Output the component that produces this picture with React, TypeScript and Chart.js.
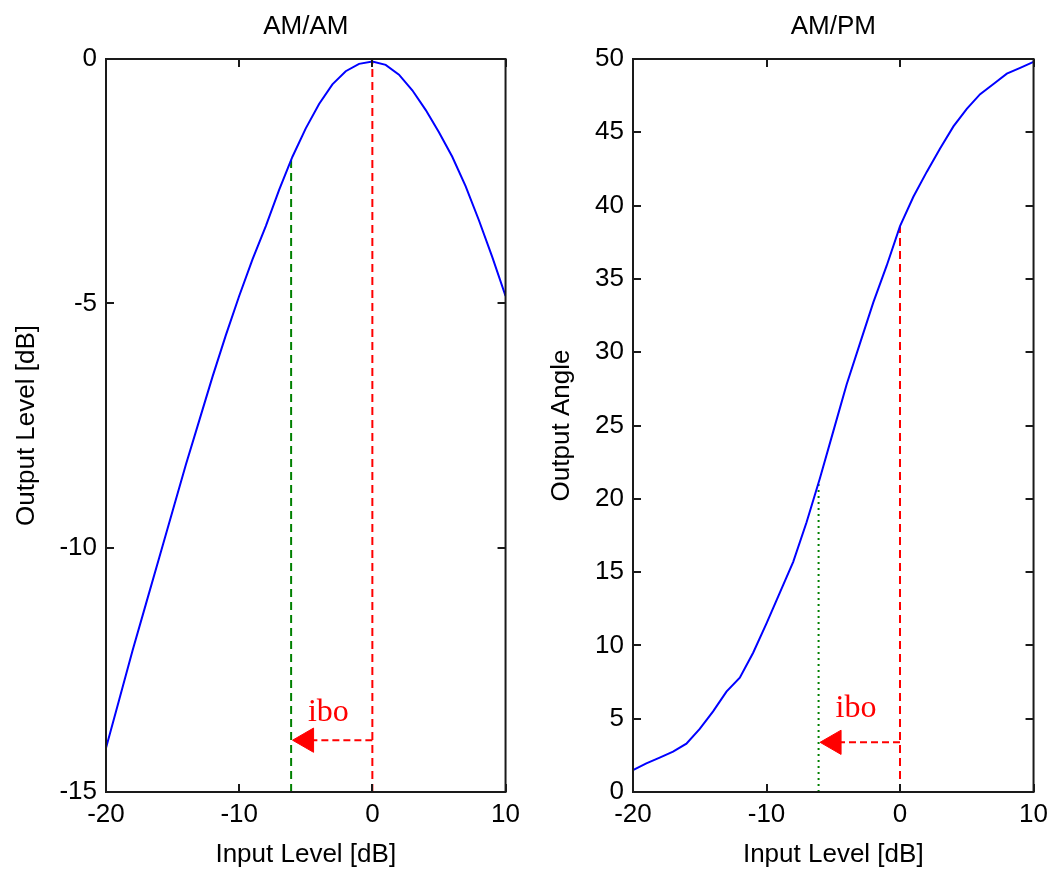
import React, { useEffect, useRef } from 'react';
import { Chart, registerables } from 'chart.js';

Chart.register(...registerables);

// ---------- data ----------
const inputLevel = [-20, -19, -18, -17, -16, -15, -14, -13, -12, -11, -10, -9, -8, -7, -6, -5, -4, -3, -2, -1, 0, 1, 2, 3, 4, 5, 6, 7, 8, 9, 10];
const amamOutput = [-14.1, -13.1, -12.1, -11.15, -10.2, -9.25, -8.3, -7.4, -6.5, -5.65, -4.85, -4.1, -3.42, -2.68, -2.0, -1.42, -0.92, -0.52, -0.25, -0.1, -0.05, -0.12, -0.32, -0.64, -1.04, -1.5, -2.0, -2.6, -3.3, -4.05, -4.85];
const ampmOutput = [1.5, 1.95, 2.35, 2.75, 3.3, 4.3, 5.5, 6.85, 7.8, 9.5, 11.5, 13.6, 15.7, 18.4, 21.4, 24.6, 27.8, 30.6, 33.4, 35.9, 38.6, 40.6, 42.3, 43.9, 45.4, 46.6, 47.6, 48.3, 49.0, 49.4, 49.8];

const xTicks = [-20, -10, 0, 10];
const amamYTicks = [-15, -10, -5, 0];
const ampmYTicks = [0, 5, 10, 15, 20, 25, 30, 35, 40, 45, 50];

const iboInput = -6.1;       // operating point (green line)
const satInput = 0;          // saturation point (red line)
// [green top, red top, arrow y, arrow head x, label x, label baseline y]
const amamMarks = [-2.05, -0.05, -13.94, -4.94, -3.3, -13.55];
const ampmMarks = [21.2, 38.6, 3.39, -4.94, -3.3, 5.12];

const SANS = "'Liberation Sans', Arial, Helvetica, sans-serif";
const SERIF = "'Liberation Serif', 'Times New Roman', serif";
const FONT = { family: SANS, size: 26 };

type PanelProps = {
  left: number;
  width: number;
  title: string;
  yTitle: string;
  yMin: number;
  yMax: number;
  yTicks: number[];
  values: number[];
  marks: number[];
  yTitlePad: number;
  rightPad: number;
  greenDash: number[];
};

function Panel(p: PanelProps) {
  const ref = useRef<HTMLCanvasElement | null>(null);
  useEffect(() => {
    if (!ref.current) return;
    const [greenTop, redTop, arrowY, headX, labelX, labelY] = p.marks;
    const deco = {
      id: 'deco',
      afterDatasetsDraw(chart: any) {
        const { ctx, chartArea: a, scales } = chart;
        ctx.save();
        ctx.strokeStyle = '#1a1a1a';
        ctx.lineWidth = 2;
        ctx.strokeRect(a.left, a.top, a.right - a.left, a.bottom - a.top);
        const tl = 8;
        ctx.beginPath();
        for (const v of xTicks) {
          const px = Math.round(scales.x.getPixelForValue(v));
          ctx.moveTo(px, a.bottom); ctx.lineTo(px, a.bottom - tl);
          ctx.moveTo(px, a.top); ctx.lineTo(px, a.top + tl);
        }
        for (const v of p.yTicks) {
          const py = Math.round(scales.y.getPixelForValue(v));
          ctx.moveTo(a.left, py); ctx.lineTo(a.left + tl, py);
          ctx.moveTo(a.right, py); ctx.lineTo(a.right - tl, py);
        }
        ctx.stroke();
        // title
        ctx.fillStyle = '#000';
        ctx.font = `26px ${SANS}`;
        ctx.textAlign = 'center';
        ctx.textBaseline = 'middle';
        ctx.fillText(p.title, (a.left + a.right) / 2, 27);
        // ibo label
        ctx.fillStyle = '#ff0000';
        ctx.font = `32px ${SERIF}`;
        ctx.textBaseline = 'alphabetic';
        ctx.fillText('ibo', scales.x.getPixelForValue(labelX), scales.y.getPixelForValue(labelY));
        ctx.restore();
      },
    };
    const chart = new Chart(ref.current, {
      type: 'line',
      data: {
        datasets: [
          {
            data: inputLevel.map((x, i) => ({ x, y: p.values[i] })),
            borderColor: '#0000ff',
            borderWidth: 2,
            pointRadius: 0,
            tension: 0,
          },
          {
            data: [{ x: satInput, y: p.yMin }, { x: satInput, y: redTop }],
            borderColor: '#ff0000',
            borderWidth: 2,
            borderDash: [8, 5],
            pointRadius: 0,
          },
          {
            data: [{ x: iboInput, y: p.yMin }, { x: iboInput, y: greenTop }],
            borderColor: '#008000',
            borderWidth: 2,
            borderDash: p.greenDash,
            pointRadius: 0,
          },
          {
            data: [{ x: satInput, y: arrowY }, { x: headX, y: arrowY }],
            borderColor: '#ff0000',
            borderWidth: 2,
            borderDash: [7, 4],
            pointRadius: 0,
          },
          {
            data: [{ x: headX, y: arrowY }],
            showLine: false,
            pointStyle: 'triangle',
            rotation: -90,
            pointRadius: 14,
            pointBackgroundColor: '#ff0000',
            pointBorderColor: '#ff0000',
            pointBorderWidth: 1,
          },
        ],
      },
      options: {
        responsive: false,
        maintainAspectRatio: false,
        animation: false,
        layout: { padding: { top: 59, right: p.rightPad, left: 0, bottom: 0 } },
        plugins: { legend: { display: false }, tooltip: { enabled: false }, title: { display: false } },
        scales: {
          x: {
            type: 'linear',
            min: -20,
            max: 10,
            grid: { display: false, drawTicks: false },
            border: { display: false },
            afterFit: (s: any) => { s.height = 80; },
            afterBuildTicks: (s: any) => { s.ticks = xTicks.map((v) => ({ value: v })); },
            ticks: { font: FONT, color: '#000', padding: 7, maxRotation: 0, autoSkip: false },
            title: { display: true, text: 'Input Level [dB]', font: FONT, color: '#000', padding: { top: 0, bottom: 2 } },
          },
          y: {
            type: 'linear',
            min: p.yMin,
            max: p.yMax,
            grid: { display: false, drawTicks: false },
            border: { display: false },
            afterFit: (s: any) => { s.width = 106; },
            afterBuildTicks: (s: any) => { s.ticks = p.yTicks.map((v) => ({ value: v })); },
            ticks: { font: FONT, color: '#000', padding: 9, autoSkip: false },
            title: { display: true, text: p.yTitle, font: FONT, color: '#000', padding: { top: p.yTitlePad, bottom: 0 } },
          },
        },
      } as any,
      plugins: [deco],
    });
    return () => chart.destroy();
  }, []);
  return (
    <canvas
      ref={ref}
      width={p.width}
      height={872}
      style={{ position: 'absolute', left: p.left, top: 0, width: p.width, height: 872 }}
    />
  );
}

export default function App() {
  return (
    <div style={{ position: 'absolute', left: 0, top: 0, width: 1055, height: 872, background: '#fff' }}>
      <Panel left={0} width={527} title="AM/AM" yTitle="Output Level [dB]" yMin={-15} yMax={0}
        yTicks={amamYTicks} values={amamOutput} marks={amamMarks} yTitlePad={11} rightPad={20} greenDash={[8, 5]} />
      <Panel left={527} width={528} title="AM/PM" yTitle="Output Angle" yMin={0} yMax={50}
        yTicks={ampmYTicks} values={ampmOutput} marks={ampmMarks} yTitlePad={19} rightPad={18} greenDash={[2, 4]} />
    </div>
  );
}
